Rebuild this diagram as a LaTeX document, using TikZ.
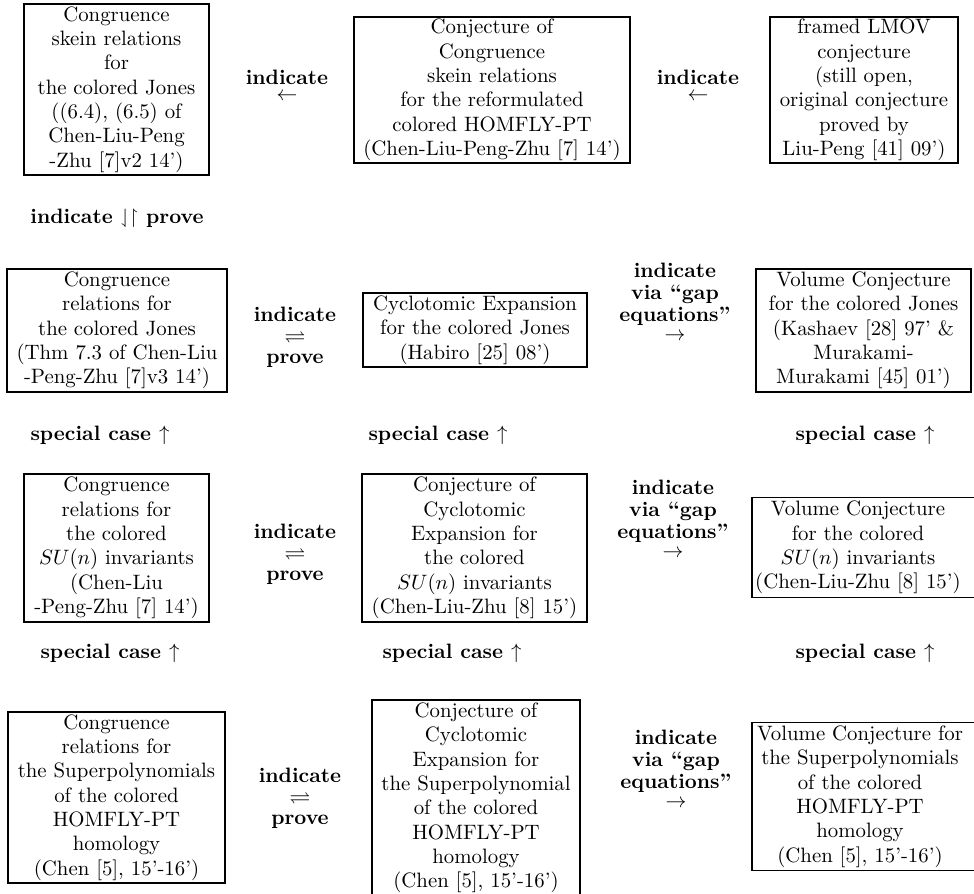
\documentclass[tikz,border=0pt]{standalone}
\usepackage{amsmath,amssymb}
\newdimen\pxu
\pxu=0.4805pt
\begin{document}
\begin{tikzpicture}[x=0.4805pt,y=-0.4805pt,
  box/.style={draw, line width=0.5pt, align=center, inner sep=0pt, font=\fontsize{10}{11.7}\selectfont},
  openbox/.style={align=center, inner sep=0pt, font=\fontsize{10}{11.7}\selectfont},
  frame/.style={draw, line width=0.5pt},
  lab/.style={align=center, inner sep=0pt, font=\bfseries}]
\useasboundingbox (0,0) rectangle (974,894);
\clip (0,0) rectangle (974,894);

% row A
\node[box, minimum width=185\pxu, minimum height=171\pxu] (a1) at (116.5,89.5)
  {Congruence\\skein relations\\for\\the colored Jones\\((6.4), (6.5) of\\Chen-Liu-Peng\\-Zhu [7]v2 14')};
\node[box, minimum width=276\pxu, minimum height=146\pxu] (a2) at (492,90)
  {Conjecture of\\Congruence\\skein relations\\for the reformulated\\colored HOMFLY-PT\\(Chen-Liu-Peng-Zhu [7] 14')};
\node[box, minimum width=188\pxu, minimum height=146\pxu] (a3) at (864,90)
  {framed LMOV\\conjecture\\(still open,\\original conjecture\\proved by\\Liu-Peng [41] 09')};

% row B
\node[box, minimum width=220\pxu, minimum height=123\pxu] (b1) at (117,330.5)
  {Congruence\\relations for\\the colored Jones\\(Thm 7.3 of Chen-Liu\\-Peng-Zhu [7]v3 14')};
\node[box, minimum width=224\pxu, minimum height=74\pxu] (b2) at (475,330)
  {Cyclotomic Expansion\\for the colored Jones\\(Habiro [25] 08')};
\node[box, minimum width=215\pxu, minimum height=123\pxu] (b3) at (863.5,330.5)
  {Volume Conjecture\\for the colored Jones\\(Kashaev [28] 97' \&\\Murakami-\\Murakami [45] 01')};

% row C
\node[box, minimum width=185\pxu, minimum height=148\pxu] (c1) at (116.5,548)
  {Congruence\\relations for\\the colored\\$SU(n)$ invariants\\(Chen-Liu\\-Peng-Zhu [7] 14')};
\node[box, minimum width=225\pxu, minimum height=148\pxu] (c2) at (474.5,548)
  {Conjecture of\\Cyclotomic\\Expansion for\\the colored\\$SU(n)$ invariants\\(Chen-Liu-Zhu [8] 15')};
\node[openbox, minimum height=99\pxu] (c3) at (858,547.5)
  {Volume Conjecture\\for the colored\\$SU(n)$ invariants\\(Chen-Liu-Zhu [8] 15')};
\draw[frame] (752,0 |- c3.north) rectangle (1000,0 |- c3.south);

% row D
\node[box, minimum width=217\pxu, minimum height=171\pxu] (d1) at (116.5,797.5)
  {Congruence\\relations for\\the Superpolynomials\\of the colored\\HOMFLY-PT\\homology\\(Chen [5], 15'-16')};
\node[box, minimum width=208\pxu, minimum height=196\pxu] (d2) at (476,798)
  {Conjecture of\\Cyclotomic\\Expansion for\\the Superpolynomial\\of the colored\\HOMFLY-PT\\homology\\(Chen [5], 15'-16')};
\node[openbox, minimum height=147\pxu] (d3) at (860,796.5)
  {Volume Conjecture for\\the Superpolynomials\\of the colored\\HOMFLY-PT\\homology\\(Chen [5], 15'-16')};
\draw[frame] (752,0 |- d3.north) rectangle (1000,0 |- d3.south);

% labels row A
\node[lab, anchor=north] (la12) at (287,70) {indicate\\[-4.4pt]$\leftarrow$};
\node[lab, anchor=north] (la23) at (698,70) {indicate\\[-4.4pt]$\leftarrow$};
\node[lab] (lab1) at (117,218) {indicate $\downharpoonleft\upharpoonright$ prove};

% labels row B
\node[lab, anchor=north] (lb12) at (295,307) {indicate\\[-2pt]$\rightleftharpoons$\\[-2pt]prove};
\node[lab, anchor=north] (lb23) at (675,263) {indicate\\[-1.5pt]via ``gap\\[-1.5pt]equations''\\[-3pt]$\rightarrow$};
\node[lab] (sb1) at (100,435) {special case $\uparrow$};
\node[lab] (sb2) at (438,435) {special case $\uparrow$};
\node[lab] (sb3) at (865,435) {special case $\uparrow$};

% labels row C
\node[lab, anchor=north] (lc12) at (295,524) {indicate\\[-2pt]$\rightleftharpoons$\\[-2pt]prove};
\node[lab, anchor=north] (lc23) at (673,480) {indicate\\[-1.5pt]via ``gap\\[-1.5pt]equations''\\[-3pt]$\rightarrow$};
\node[lab] (sc1) at (110,653) {special case $\uparrow$};
\node[lab] (sc2) at (452,653) {special case $\uparrow$};
\node[lab] (sc3) at (865,653) {special case $\uparrow$};

% labels row D
\node[lab, anchor=north] (ld12) at (300,768) {indicate\\[-2pt]$\rightleftharpoons$\\[-2pt]prove};
\node[lab, anchor=north] (ld23) at (676,730) {indicate\\[-1.5pt]via ``gap\\[-1.5pt]equations''\\[-3pt]$\rightarrow$};
\end{tikzpicture}
\end{document}
